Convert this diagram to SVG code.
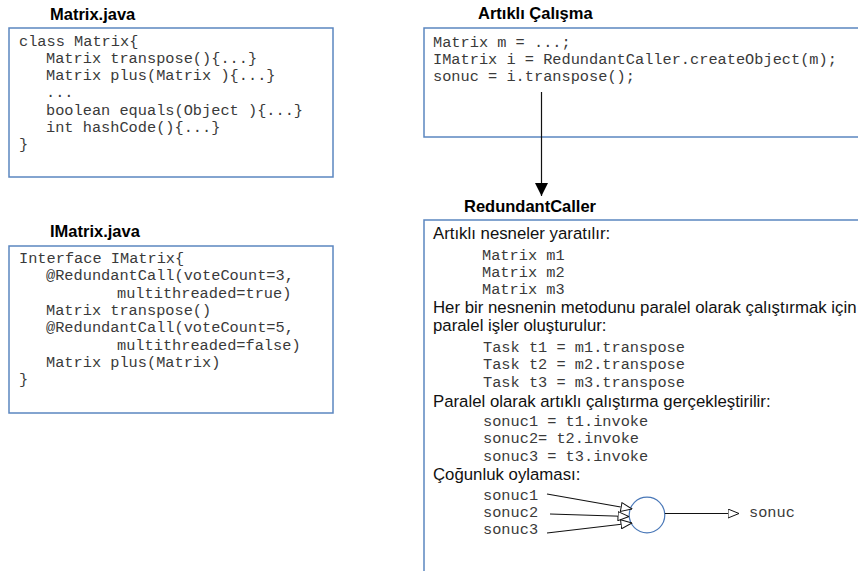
<svg xmlns="http://www.w3.org/2000/svg" width="858" height="571" viewBox="0 0 858 571">
<defs>
<style>
.box{fill:#fff;stroke:#5b86c0;stroke-width:1.5}
.title{font-family:"Liberation Sans",Arial,sans-serif;font-weight:bold;font-size:16.5px;fill:#000}
.code{font-family:"Liberation Mono","Courier New",monospace;font-size:15.3px;fill:#3a3a3a}
.txt{font-family:"Liberation Sans",Arial,sans-serif;font-size:16.8px;fill:#111}
.ln{stroke:#111;stroke-width:1.2;fill:none}
</style>
<marker id="solid" viewBox="0 0 10 10" refX="10" refY="5" markerWidth="13" markerHeight="13" markerUnits="userSpaceOnUse" orient="auto">
<path d="M0,0 L10,5 L0,10 z" fill="#000"/>
</marker>
<marker id="open" viewBox="0 0 12 10" refX="11.5" refY="5" markerWidth="12" markerHeight="10" markerUnits="userSpaceOnUse" orient="auto">
<path d="M0.5,0.5 L11.5,5 L0.5,9.5 z" fill="#fff" stroke="#111" stroke-width="1"/>
</marker>
</defs>
<rect width="858" height="571" fill="#fff"/>

<g id="matrix-java">
<text class="title" x="50" y="20">Matrix.java</text>
<rect class="box" x="9" y="28" width="324" height="149"/>
<text class="code" x="19" y="46">class Matrix{</text>
<text class="code" x="46" y="63">Matrix transpose(){...}</text>
<text class="code" x="46" y="80">Matrix plus(Matrix ){...}</text>
<text class="code" x="46" y="97">...</text>
<text class="code" x="46" y="115">boolean equals(Object ){...}</text>
<text class="code" x="46" y="132">int hashCode(){...}</text>
<text class="code" x="19" y="149">}</text>
</g>

<g id="imatrix-java">
<text class="title" x="50" y="237">IMatrix.java</text>
<rect class="box" x="9" y="246" width="324" height="167"/>
<text class="code" x="19" y="263">Interface IMatrix{</text>
<text class="code" x="46" y="280">@RedundantCall(voteCount=3,</text>
<text class="code" x="117" y="298">multithreaded=true)</text>
<text class="code" x="46" y="315">Matrix transpose()</text>
<text class="code" x="46" y="332">@RedundantCall(voteCount=5,</text>
<text class="code" x="117" y="350">multithreaded=false)</text>
<text class="code" x="46" y="367">Matrix plus(Matrix)</text>
<text class="code" x="19" y="384">}</text>
</g>

<g id="artikli-calisma">
<text class="title" x="478" y="19">Artıklı Çalışma</text>
<rect class="box" x="424" y="28" width="450" height="109"/>
<text class="code" x="433" y="47">Matrix m = ...;</text>
<text class="code" x="433" y="64">IMatrix i = RedundantCaller.createObject(m);</text>
<text class="code" x="433" y="81">sonuc = i.transpose();</text>
</g>

<g id="redundant-caller">
<text class="title" x="464" y="212">RedundantCaller</text>
<rect class="box" x="424" y="220" width="450" height="360"/>
<text class="txt" x="433" y="239">Artıklı nesneler yaratılır:</text>
<text class="code" x="482" y="260">Matrix m1</text>
<text class="code" x="482" y="277">Matrix m2</text>
<text class="code" x="482" y="294">Matrix m3</text>
<text class="txt" x="433" y="313">Her bir nesnenin metodunu paralel olarak çalıştırmak için</text>
<text class="txt" x="433" y="331">paralel işler oluşturulur:</text>
<text class="code" x="483" y="352">Task t1 = m1.transpose</text>
<text class="code" x="483" y="369">Task t2 = m2.transpose</text>
<text class="code" x="483" y="387">Task t3 = m3.transpose</text>
<text class="txt" x="433" y="407">Paralel olarak artıklı çalıştırma gerçekleştirilir:</text>
<text class="code" x="483" y="426">sonuc1 = t1.invoke</text>
<text class="code" x="483" y="443">sonuc2= t2.invoke</text>
<text class="code" x="483" y="461">sonuc3 = t3.invoke</text>
<text class="txt" x="433" y="480">Çoğunluk oylaması:</text>
<text class="code" x="483" y="500">sonuc1</text>
<text class="code" x="483" y="517">sonuc2</text>
<text class="code" x="483" y="534">sonuc3</text>
<text class="code" x="749" y="517">sonuc</text>
</g>

<g id="voter">
<circle cx="647" cy="515" r="17.8" fill="#fff" stroke="#4a78b8" stroke-width="1.2"/>
</g>

<g id="connectors">
<line class="ln" x1="541.5" y1="92" x2="541.5" y2="196" marker-end="url(#solid)"/>
<line class="ln" x1="547" y1="494" x2="632" y2="509" marker-end="url(#open)"/>
<line class="ln" x1="550" y1="514" x2="629" y2="516.5" marker-end="url(#open)"/>
<line class="ln" x1="547" y1="533" x2="632" y2="523" marker-end="url(#open)"/>
<line class="ln" x1="665" y1="513.5" x2="739" y2="513.5" marker-end="url(#open)"/>
</g>
</svg>
